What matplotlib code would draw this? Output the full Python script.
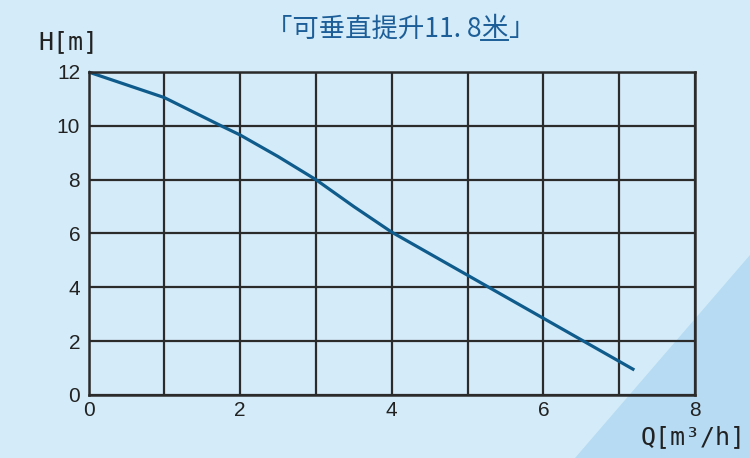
import matplotlib
matplotlib.use("Agg")
import matplotlib.pyplot as plt
from matplotlib.patches import Polygon
from matplotlib.lines import Line2D

# pump curve
flow = [0, 1, 1.75, 2, 2.5, 3, 3.5, 4, 5, 6, 7.2]
head = [12, 11.05, 10, 9.66, 8.86, 8.0, 7.0, 6.05, 4.45, 2.85, 0.93]
x_ticks = [0, 2, 4, 6, 8]
y_ticks = [0, 2, 4, 6, 8, 10, 12]
title_parts = ["「可垂直提升11. 8", "米", "」"]

bg = "#d4ecf9"
W, H = 750, 458
fig = plt.figure(figsize=(7.5, 4.58), dpi=100, facecolor=bg)

# darker triangle in the lower right corner, behind everything
tri = Polygon([(575 / W, 0), (1, 1 - 255 / H), (1, 0)], closed=True,
              transform=fig.transFigure, facecolor="#b6dbf3", edgecolor="none", zorder=-5)
fig.patches.append(tri)

ax = fig.add_axes([88.5 / W, 1 - 395 / H, (695 - 88.5) / W, (395 - 72) / H])
ax.set_zorder(2)
ax.set_facecolor("none")
ax.set_xlim(0, 8)
ax.set_ylim(0, 12)
ax.set_xticks(range(0, 9))
ax.set_yticks(range(0, 13, 2))
ax.grid(True, color="#2b2b2b", linewidth=1.6)
for s in ax.spines.values():
    s.set_color("#2b2b2b")
    s.set_linewidth(1.8)
ax.tick_params(length=0, labelsize=15, labelcolor="#222222")
ax.set_xticklabels([str(v) if v in x_ticks else "" for v in range(0, 9)],
                   family="Liberation Sans")
ax.set_yticklabels([str(v) for v in y_ticks], family="Liberation Sans")
ax.tick_params(axis="x", pad=4)
ax.tick_params(axis="y", pad=6)

ax.plot(flow, head, color="#0f5b8b", linewidth=2.3, solid_capstyle="butt", clip_on=False)

mono = ["DejaVu Sans Mono"]
fig.text(38 / W, 1 - 42 / H, "H[m]", family=mono, fontsize=18, color="#222222",
         va="center", ha="left", zorder=3)
fig.text(746 / W, 1 - 437 / H, "Q[m³/h]", family=mono, fontsize=18, color="#222222",
         va="center", ha="right", zorder=3)

# title built from pieces so the 米 can be underlined
tfont = dict(family=["Noto Sans CJK SC", "DejaVu Sans"], fontsize=19, color="#1d5e98")
fig.canvas.draw()
r = fig.canvas.get_renderer()
pieces = [fig.text(0, 0, p, **tfont) for p in title_parts]
widths = [p.get_window_extent(r).width for p in pieces]
x0 = 400 - sum(widths) / 2
y_mid = H - 29
for p, w in zip(pieces, widths):
    p.set_position((x0 / W, y_mid / H))
    p.set_va("center")
    p.set_ha("left")
    x0 += w
fig.canvas.draw()
bb = pieces[1].get_window_extent(r)
fig.lines.append(Line2D([bb.x0 / W, bb.x1 / W], [(bb.y0 + 3) / H, (bb.y0 + 3) / H],
                        transform=fig.transFigure, color="#1d5e98", linewidth=1.4))

fig.savefig("out.png", dpi=100, facecolor=bg)
